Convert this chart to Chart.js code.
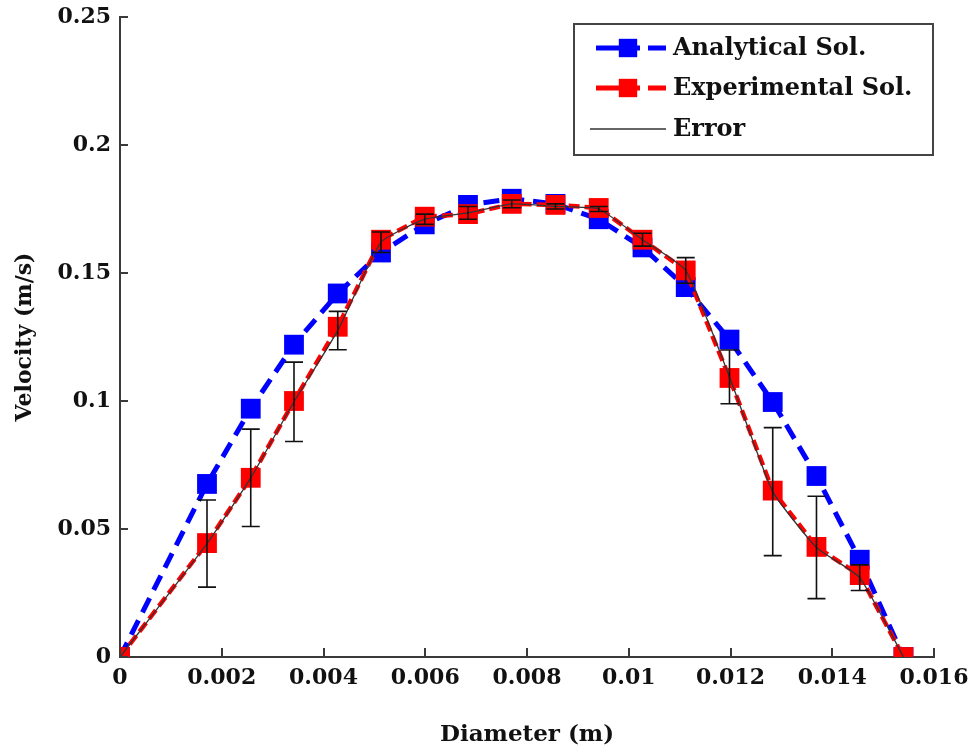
<!DOCTYPE html>
<html>
<head>
<meta charset="utf-8">
<script src="https://cdn.jsdelivr.net/npm/chart.js@4.4.1/dist/chart.umd.min.js"></script>
<style>
  html, body { margin: 0; padding: 0; background: #fff; }
</style>
</head>
<body>
<canvas id="velocityChart" width="974" height="750"></canvas>
<script>
// Datos
const diameter = [0, 0.00171, 0.00257, 0.00342, 0.00428, 0.00513, 0.00599, 0.00684, 0.0077,
                  0.00856, 0.00941, 0.01027, 0.01112, 0.01198, 0.01283, 0.01369, 0.01454, 0.0154];
const analytical = [0, 0.0676, 0.097, 0.122, 0.142, 0.158, 0.169, 0.1766, 0.179,
                    0.177, 0.171, 0.160, 0.1445, 0.124, 0.0996, 0.0707, 0.038, 0];
const experimental = [0, 0.0445, 0.070, 0.100, 0.129, 0.163, 0.172, 0.173, 0.177,
                      0.1766, 0.1754, 0.163, 0.151, 0.109, 0.065, 0.043, 0.032, 0];
const errorMean = [0, 0.0443, 0.070, 0.0997, 0.1275, 0.162, 0.171, 0.1735, 0.177,
                   0.176, 0.175, 0.163, 0.151, 0.1094, 0.0646, 0.0428, 0.031, 0];
const errorDelta = [0, 0.017, 0.019, 0.0155, 0.0075, 0.004, 0.002, 0.0025, 0.0015,
                    0.001, 0.001, 0.0025, 0.005, 0.0105, 0.025, 0.02, 0.005, 0];
const xTicks = [0, 0.002, 0.004, 0.006, 0.008, 0.01, 0.012, 0.014, 0.016];
const yTicks = [0, 0.05, 0.1, 0.15, 0.2, 0.25];

const seriesNames = ['Analytical Sol.', 'Experimental Sol.', 'Error'];
const BLUE = '#0000ff';
const RED = '#ff0000';
const AXIS = '#3a3a3a';
const FONT = "'DejaVu Serif', serif";

const toPoints = ys => diameter.map((x, i) => ({ x: x, y: ys[i] }));
const fmt = v => String(parseFloat(v.toFixed(4)));

// Barras de error, ticks hacia adentro y leyenda con recuadro
const extras = {
  id: 'extras',
  afterDatasetsDraw(chart) {
    const ctx = chart.ctx, xs = chart.scales.x, ys = chart.scales.y;
    ctx.save();
    ctx.strokeStyle = '#111';
    ctx.lineWidth = 1.6;
    diameter.forEach((d, i) => {
      if (!errorDelta[i]) return;
      const px = xs.getPixelForValue(d);
      const top = ys.getPixelForValue(errorMean[i] + errorDelta[i]);
      const bot = ys.getPixelForValue(errorMean[i] - errorDelta[i]);
      ctx.beginPath();
      ctx.moveTo(px, top); ctx.lineTo(px, bot);
      ctx.moveTo(px - 9, top); ctx.lineTo(px + 9, top);
      ctx.moveTo(px - 9, bot); ctx.lineTo(px + 9, bot);
      ctx.stroke();
    });
    ctx.restore();
  },
  afterDraw(chart) {
    const ctx = chart.ctx, xs = chart.scales.x, ys = chart.scales.y;
    const area = chart.chartArea;
    ctx.save();
    ctx.strokeStyle = AXIS;
    ctx.lineWidth = 2;
    ctx.beginPath();
    xTicks.forEach(v => {
      const px = Math.round(xs.getPixelForValue(v));
      ctx.moveTo(px, area.bottom); ctx.lineTo(px, area.bottom - 9);
    });
    yTicks.forEach(v => {
      const py = Math.round(ys.getPixelForValue(v));
      ctx.moveTo(area.left, py); ctx.lineTo(area.left + 8, py);
    });
    ctx.stroke();

    // leyenda
    ctx.lineWidth = 2;
    ctx.strokeStyle = '#444';
    ctx.strokeRect(574, 24, 359, 131);
    const rows = [
      { y: 48, color: BLUE, width: 5, dash: [44, 8], marker: true },
      { y: 88, color: RED, width: 5, dash: [44, 8], marker: true },
      { y: 129, color: '#333', width: 1.5, dash: [], marker: false }
    ];
    rows.forEach((r, i) => {
      ctx.save();
      ctx.strokeStyle = r.color;
      ctx.lineWidth = r.width;
      ctx.setLineDash(r.dash);
      ctx.beginPath();
      ctx.moveTo(r.marker ? 596 : 590, r.y);
      ctx.lineTo(666, r.y);
      ctx.stroke();
      ctx.restore();
      if (r.marker) {
        ctx.fillStyle = r.color;
        Chart.helpers.drawPoint(ctx, { pointStyle: 'rect', radius: 13, rotation: 0, borderWidth: 0 }, 628, r.y);
      }
      ctx.fillStyle = '#111';
      ctx.font = 'bold 24px ' + FONT;
      ctx.textBaseline = 'middle';
      ctx.textAlign = 'left';
      ctx.fillText(seriesNames[i], 673, r.y + 1);
    });
    ctx.restore();
  }
};

const ctx = document.getElementById('velocityChart').getContext('2d');

new Chart(ctx, {
  type: 'line',
  data: {
    datasets: [
      {
        label: seriesNames[0],
        data: toPoints(analytical),
        borderColor: BLUE,
        backgroundColor: BLUE,
        borderWidth: 5,
        borderDash: [16, 9],
        pointStyle: 'rect',
        pointRadius: 14,
        pointBorderWidth: 0,
        tension: 0,
        order: 3
      },
      {
        label: seriesNames[1],
        data: toPoints(experimental),
        borderColor: RED,
        backgroundColor: RED,
        borderWidth: 4.5,
        borderDash: [11, 5],
        pointStyle: 'rect',
        pointRadius: 14,
        pointBorderWidth: 0,
        tension: 0,
        order: 2
      },
      {
        label: seriesNames[2],
        data: toPoints(errorMean),
        borderColor: '#333',
        borderWidth: 1.3,
        pointRadius: 0,
        tension: 0.15,
        order: 1
      }
    ]
  },
  options: {
    responsive: false,
    animation: false,
    layout: { padding: { top: 17, right: 40, left: 0, bottom: 0 } },
    plugins: {
      legend: { display: false },
      tooltip: { enabled: false }
    },
    scales: {
      x: {
        type: 'linear',
        min: 0,
        max: 0.016,
        afterFit: s => { s.height = 93; s.paddingLeft = 0; s.paddingRight = 0; },
        afterBuildTicks: s => { s.ticks = xTicks.map(v => ({ value: v })); },
        grid: { display: true, drawOnChartArea: false, drawTicks: false },
        border: { display: true, color: AXIS, width: 2 },
        ticks: {
          padding: 8,
          color: '#111',
          font: { family: FONT, size: 22, weight: 'bold' },
          maxRotation: 0,
          callback: v => fmt(v)
        },
        title: {
          display: true,
          text: 'Diameter (m)',
          color: '#111',
          font: { family: FONT, size: 23, weight: 'bold' },
          padding: { top: 0, bottom: 1 }
        }
      },
      y: {
        min: 0,
        max: 0.25,
        afterFit: s => { s.width = 120; s.paddingTop = 0; s.paddingBottom = 0; },
        afterBuildTicks: s => { s.ticks = yTicks.map(v => ({ value: v })); },
        grid: { display: true, drawOnChartArea: false, drawTicks: false },
        border: { display: true, color: AXIS, width: 2 },
        ticks: {
          padding: 9,
          color: '#111',
          font: { family: FONT, size: 22, weight: 'bold' },
          callback: v => fmt(v)
        },
        title: {
          display: true,
          text: 'Velocity (m/s)',
          color: '#111',
          font: { family: FONT, size: 22, weight: 'bold' },
          padding: { top: 12, bottom: 0 }
        }
      }
    }
  },
  plugins: [extras]
});
</script>
</body>
</html>
